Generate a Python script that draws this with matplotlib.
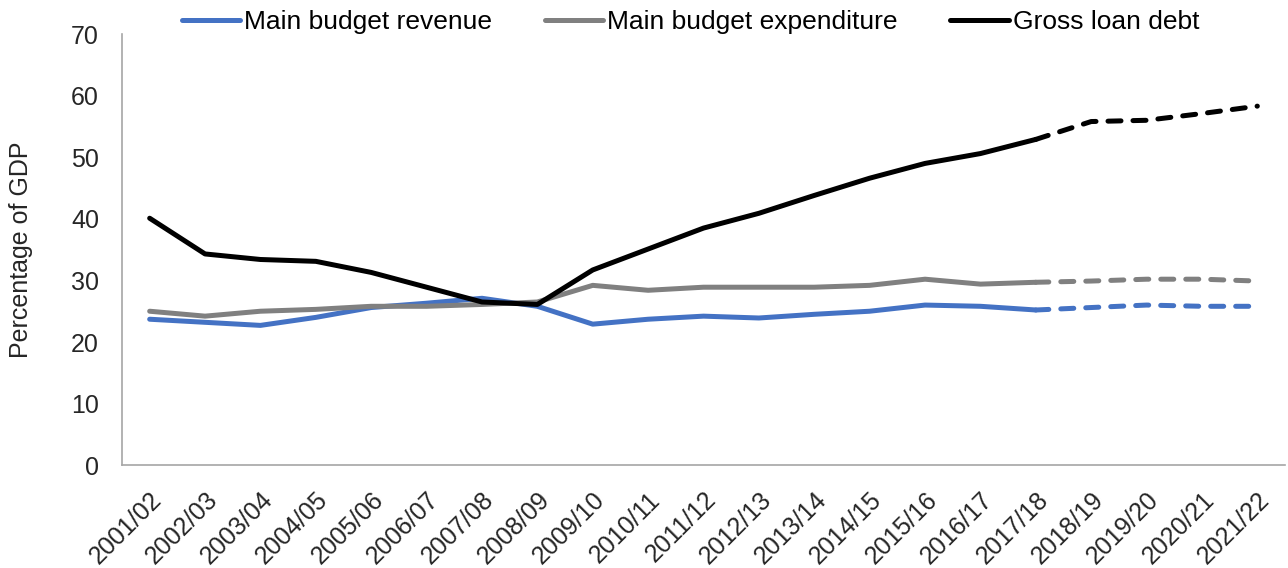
import numpy as np
import matplotlib.pyplot as plt

plt.rcParams['font.family'] = ['Liberation Sans', 'DejaVu Sans']

years = ['2001/02', '2002/03', '2003/04', '2004/05', '2005/06', '2006/07', '2007/08',
         '2008/09', '2009/10', '2010/11', '2011/12', '2012/13', '2013/14', '2014/15',
         '2015/16', '2016/17', '2017/18', '2018/19', '2019/20', '2020/21', '2021/22']

revenue = [23.7, 23.2, 22.7, 24.0, 25.6, 26.3, 27.1, 25.8, 22.9, 23.7, 24.2,
           23.9, 24.5, 25.0, 26.0, 25.8, 25.2, 25.6, 26.0, 25.8, 25.8]
expenditure = [25.0, 24.2, 25.0, 25.3, 25.8, 25.8, 26.1, 26.5, 29.2, 28.4, 28.9,
               28.9, 28.9, 29.2, 30.2, 29.4, 29.7, 29.9, 30.2, 30.2, 29.9]
debt = [40.1, 34.3, 33.4, 33.1, 31.3, 28.9, 26.5, 26.1, 31.7, 35.1, 38.5,
        40.9, 43.8, 46.6, 49.0, 50.6, 52.9, 55.8, 56.0, 57.1, 58.3]

# projections start after this year
last_actual = years.index('2017/18')

fig = plt.figure(figsize=(12.88, 5.68), dpi=100)
ax = fig.add_axes([0.0947, 0.181, 0.903, 0.759])

x = np.arange(len(years))
series = [(revenue, '#4472C4', 'Main budget revenue'),
          (expenditure, '#808080', 'Main budget expenditure'),
          (debt, '#000000', 'Gross loan debt')]
for vals, col, lab in series:
    v = np.array(vals)
    ax.plot(x[:last_actual + 1], v[:last_actual + 1], color=col, lw=3.6, label=lab,
            solid_capstyle='round', solid_joinstyle='round')
    ax.plot(x[last_actual:], v[last_actual:], color=col, lw=3.6,
            linestyle=(0, (2.6, 2.4)), dash_capstyle='round')

ax.set_xlim(-0.5, len(years) - 0.5)
ax.set_ylim(0, 70)
ax.set_yticks(range(0, 71, 10))
ax.set_xticks(x)
ax.set_xticklabels(years, rotation=45, ha='right', rotation_mode='anchor')
ax.tick_params(axis='both', length=0, labelsize=18, colors='#262626')
ax.tick_params(axis='x', pad=16)
ax.tick_params(axis='y', pad=16.5)
ax.set_ylabel('Percentage of GDP', fontsize=18, color='#262626')
ax.yaxis.set_label_coords(-0.0765, 0.5)

for s in ['top', 'right']:
    ax.spines[s].set_visible(False)
for s in ['left', 'bottom']:
    ax.spines[s].set_color('#A6A6A6')
    ax.spines[s].set_linewidth(1.2)

ax.legend(loc='center', bbox_to_anchor=(0.489, 1.028), ncol=3, frameon=False,
          fontsize=19, handlelength=2.2, handletextpad=0.15, columnspacing=2.0,
          borderpad=0, borderaxespad=0)

fig.savefig('out.png', dpi=100)
